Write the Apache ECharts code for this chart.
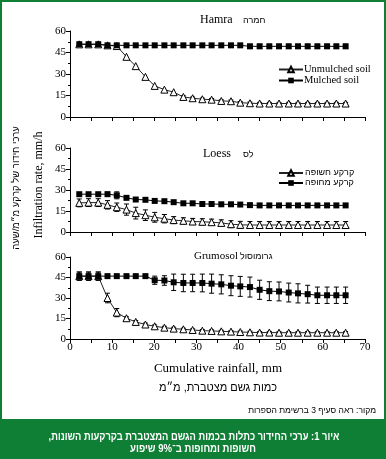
<!DOCTYPE html>
<html>
<head>
<meta charset="utf-8">
<script src="https://cdn.jsdelivr.net/npm/echarts@6/dist/echarts.min.js"></script>
<style>html,body{margin:0;padding:0;background:#fff}#c{width:386px;height:459px}</style>
</head>
<body>
<div id="c"></div>
<script>
// Cumulative rainfall (mm) at each measurement
const rainfall = [2.2,4.4,6.7,8.9,11.1,13.4,15.6,17.9,20.1,22.4,24.6,26.9,29.1,31.4,33.6,35.9,38.2,40.4,42.7,45.0,47.3,49.6,51.9,54.1,56.4,58.7,61.0,63.2,65.4];
const xTicks = [0,10,20,30,40,50,60,70];
const yTicks = [0,15,30,45,60];

// Hamra
const hamraBare     = [50.7,50.7,50.7,50,49.5,42,35.5,28,21.7,19.1,17.3,14,13.1,12.4,12.1,11.2,11,10,9.6,9.4,9.4,9.4,9.4,9.4,9.4,9.4,9.4,9.4,9.4];
const hamraBareErr  = [0,0,0,0,0,0,0,0,0,0,0,0.8,0.8,0.8,0.8,0.8,0.8,0.8,0.8,0.8,0.8,0.8,0.8,0.8,0.8,0.8,0.8,0.8,0.8];
const hamraMulch    = [50.8,50.8,50.8,50,50,50,50,50,50,50,50,50,50,50,50,50,50,50,49.3,49.3,49.3,49.3,49.3,49.3,49.3,49.3,49.3,49.3,49.3];
const hamraMulchErr = [0,0,0,0,0,0,0,0,0,0,0,0,0,0,0,0,0,0,1.5,1.5,1.5,1.5,1.5,1.5,1.5,1.5,1.5,1.5,1.5];

// Loess
const loessBare     = [20.8,21,21,19.4,17.7,16,13.5,12,10.5,9.5,8.5,8,7.5,7.3,7,6.5,5.6,5.1,5,5,5,5,5,5,5,5,5,5,5];
const loessBareErr  = [2.8,2.8,2.8,3,3,4,4.2,3.8,3.5,3,2.5,2.2,2.2,2.2,2.2,2.2,2.5,2.5,2.5,2.5,2.5,2.5,2.5,2.5,2.5,2.5,2.5,2.5,2.5];
const loessMulch    = [27,27,27,27,26.2,24.4,23.2,23,22.2,22,21.3,20.5,20.5,20,20,19.8,19.8,19.6,19.2,19,19,19,19,19,19,19,19,19,19];
const loessMulchErr = [0,0,0,1.5,2.5,0,0,0,0,0,0,0,0,0,0,0,0,0,0,0,0,0,0,0,0,0,0,0,0];

// Grumosol
const grumBare      = [46,46,46,30,19.3,15.2,12.5,10.6,9.3,8.3,7.6,7.1,6.6,6.1,5.9,5.6,5.4,5.1,4.9,4.7,4.7,4.6,4.6,4.6,4.6,4.6,4.6,4.6,4.6];
const grumBareErr   = [3,3,3,3.5,3,1,1,1,1,1,1,0.8,0.8,0.8,0.8,0.8,0.8,0.8,0.8,0.8,0.8,0.8,0.8,0.8,0.8,0.8,0.8,0.8,0.8];
const grumMulch     = [46,46,46,46,46,46,46,46,43,42.8,41.5,41,41,41,40.5,40,39,38.5,38,36,35,34.8,34,33.4,32.8,32,32,32,32];
const grumMulchErr  = [3,3,3,0,0,0,0,0,3,3.5,6,6.4,6.4,6.5,7,7,7.3,7.3,7.3,7,6.9,6.9,6.9,7,6.5,6,6,6,6];

const legendEn = ['Unmulched soil','Mulched soil'];
const legendHe = ['קרקע חשופה','קרקע מחופה'];

const GREEN = '#0f7f35';
const SERIF = '"Liberation Serif","Times New Roman",serif';
const SANS = '"Liberation Sans","DejaVu Sans",sans-serif';

const grids = [
  {left:70, right:21, top:31, height:86},
  {left:70, right:21, top:148, height:84},
  {left:70, right:21, top:257, height:82}
];

function pairs(vals){ return rainfall.map((x,i)=>[x, vals[i]]); }
function errData(vals, errs){ return rainfall.map((x,i)=>[x, vals[i]-errs[i], vals[i]+errs[i], errs[i]]); }

function errSeries(g, vals, errs){
  return {
    type:'custom', xAxisIndex:g, yAxisIndex:g, z:1, silent:true,
    data: errData(vals, errs),
    renderItem:function(params, api){
      if (api.value(3) <= 0) return null;
      const x = api.value(0);
      const p1 = api.coord([x, api.value(1)]);
      const p2 = api.coord([x, api.value(2)]);
      const w = 2.5, st = {stroke:'#000', lineWidth:1};
      return {type:'group', children:[
        {type:'line', shape:{x1:p1[0],y1:p1[1],x2:p2[0],y2:p2[1]}, style:st},
        {type:'line', shape:{x1:p1[0]-w,y1:p1[1],x2:p1[0]+w,y2:p1[1]}, style:st},
        {type:'line', shape:{x1:p2[0]-w,y1:p2[1],x2:p2[0]+w,y2:p2[1]}, style:st}
      ]};
    }
  };
}
function bareSeries(g, name, vals){
  return {type:'line', name:name, xAxisIndex:g, yAxisIndex:g, z:3, data:pairs(vals),
    symbol:'triangle', symbolSize:7, showAllSymbol:true,
    lineStyle:{color:'#222', width:1},
    itemStyle:{color:'#fff', borderColor:'#000', borderWidth:1}};
}
function mulchSeries(g, name, vals){
  return {type:'line', name:name, xAxisIndex:g, yAxisIndex:g, z:3, data:pairs(vals),
    symbol:'rect', symbolSize:6, showAllSymbol:true,
    lineStyle:{color:'#000', width:1},
    itemStyle:{color:'#000', borderColor:'#000', borderWidth:0}};
}

const xAxes = grids.map((g,i)=>({
  type:'value', gridIndex:i, min:xTicks[0], max:xTicks[xTicks.length-1], interval:10,
  axisLine:{lineStyle:{color:'#000', width:1}},
  axisTick:{show:true, length:4, lineStyle:{color:'#000'}},
  minorTick:{show:true, splitNumber:2, length:4, lineStyle:{color:'#000'}},
  splitLine:{show:false},
  axisLabel:{show:i===2, color:'#000', fontFamily:SERIF, fontSize:11, margin:3}
}));
const yAxes = grids.map((g,i)=>({
  type:'value', gridIndex:i, min:yTicks[0], max:yTicks[yTicks.length-1], interval:15,
  axisLine:{show:true, lineStyle:{color:'#000', width:1}},
  axisTick:{show:true, length:4, lineStyle:{color:'#000'}},
  minorTick:{show:true, splitNumber:2, length:2, lineStyle:{color:'#000'}},
  splitLine:{show:false},
  axisLabel:{color:'#000', fontFamily:SERIF, fontSize:11, margin:4}
}));

function txt(x,y,text,font,size,opts){
  return Object.assign({type:'text', x:x, y:y, silent:true,
    style:Object.assign({text:text, fill:'#000', font:size+'px '+font, align:'left', verticalAlign:'middle'}, (opts&&opts.style)||{})},
    opts&&opts.el||{});
}

const option = {
  animation:false,
  backgroundColor:'#fff',
  grid:grids,
  xAxis:xAxes,
  yAxis:yAxes,
  legend:[
    {data:legendEn, orient:'vertical', left:278, top:64, padding:0, itemWidth:24, itemHeight:7, itemGap:0,
     textStyle:{fontFamily:SERIF, fontSize:10.5, lineHeight:10, color:'#000', padding:[0,0,0,-4]}, selectedMode:false},
    {data:legendHe, orient:'vertical', left:278, top:168, padding:0, itemWidth:24, itemHeight:7, itemGap:0,
     textStyle:{fontFamily:SANS, fontSize:9, lineHeight:10, color:'#000', padding:[0,0,0,-3]}, selectedMode:false}
  ],
  series:[
    errSeries(0, hamraBare, hamraBareErr), errSeries(0, hamraMulch, hamraMulchErr),
    bareSeries(0, legendEn[0], hamraBare), mulchSeries(0, legendEn[1], hamraMulch),
    errSeries(1, loessBare, loessBareErr), errSeries(1, loessMulch, loessMulchErr),
    bareSeries(1, legendHe[0], loessBare), mulchSeries(1, legendHe[1], loessMulch),
    errSeries(2, grumBare, grumBareErr), errSeries(2, grumMulch, grumMulchErr),
    bareSeries(2, 'Grumosol unmulched', grumBare), mulchSeries(2, 'Grumosol mulched', grumMulch)
  ],
  graphic:[
    {type:'rect', shape:{x:1, y:1, width:384, height:457}, style:{fill:'none', stroke:GREEN, lineWidth:2}, silent:true},
    {type:'rect', shape:{x:0, y:419, width:386, height:40}, style:{fill:GREEN}, silent:true},
    txt(200, 20, 'Hamra', SERIF, 12),
    txt(243, 21, 'חמרה', SANS, 9),
    txt(203, 154, 'Loess', SERIF, 12),
    txt(243, 155, 'לס', SANS, 9),
    txt(194, 256, 'Grumosol', SERIF, 11),
    txt(240, 257, 'גרומוסול', SANS, 9),
    txt(39, 185, 'Infiltration rate, mm/h', SERIF, 12, {style:{align:'center'}, el:{rotation:Math.PI/2}}),
    txt(16, 188, 'ערכי חידור של קרקע מ״מ/שעה', SANS, 9.5, {style:{align:'center'}, el:{rotation:Math.PI/2}}),
    txt(218, 369, 'Cumulative rainfall, mm', SERIF, 13, {style:{align:'center'}}),
    txt(218, 388, 'כמות גשם מצטברת, מ״מ', SANS, 11, {style:{align:'center'}}),
    txt(376, 411, 'מקור: ראה סעיף 3 ברשימת הספרות', SANS, 8.5, {style:{align:'right'}}),
    txt(194, 437, 'איור 1: ערכי החידור כתלות בכמות הגשם המצטברת בקרקעות השונות,\u200F', SANS, 11, {style:{align:'center', fill:'#fff', font:'bold 11px '+SANS}, el:{scaleX:0.85}}),
    txt(193, 449, 'חשופות ומחופות ב־9% שיפוע', SANS, 11, {style:{align:'center', fill:'#fff', font:'bold 11px '+SANS}, el:{scaleX:0.87}})
  ]
};

const chart = echarts.init(document.getElementById('c'), null, {renderer:'canvas'});
chart.setOption(option);
</script>
</body>
</html>
